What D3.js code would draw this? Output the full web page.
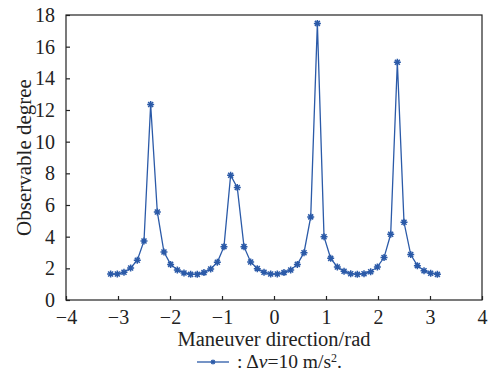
<!DOCTYPE html>
<html>
<head>
<meta charset="utf-8">
<script src="https://cdn.jsdelivr.net/npm/d3@7"></script>
<style>
  body { margin: 0; background: #fff; }
  svg text { font-family: "Liberation Serif", "DejaVu Serif", serif; fill: #222; }
</style>
</head>
<body>
<div id="chart"></div>
<script>
// Maneuver direction (rad), 50 samples from -pi to pi
var directions = [-3.142, -3.013, -2.885, -2.757, -2.629, -2.500, -2.372, -2.244, -2.116, -1.988,
                  -1.859, -1.731, -1.603, -1.475, -1.347, -1.218, -1.090, -0.962, -0.834, -0.706,
                  -0.577, -0.449, -0.321, -0.192, -0.064, 0.064, 0.192, 0.321, 0.449, 0.577,
                  0.706, 0.834, 0.962, 1.090, 1.218, 1.347, 1.475, 1.603, 1.731, 1.859,
                  1.988, 2.116, 2.244, 2.372, 2.500, 2.629, 2.757, 2.885, 3.013, 3.142];

// Observable degree for dv = 10 m/s^2
var degree = [1.64, 1.64, 1.75, 2.02, 2.51, 3.73, 12.35, 5.56, 3.03, 2.25,
              1.90, 1.71, 1.62, 1.62, 1.73, 1.96, 2.38, 3.37, 7.88, 7.10,
              3.37, 2.40, 1.98, 1.75, 1.64, 1.64, 1.73, 1.90, 2.25, 2.99,
              5.25, 17.47, 4.00, 2.63, 2.09, 1.81, 1.66, 1.62, 1.66, 1.79,
              2.09, 2.68, 4.15, 15.02, 4.91, 2.87, 2.17, 1.85, 1.69, 1.62];

var xTicks = [-4, -3, -2, -1, 0, 1, 2, 3, 4];
var yTicks = [0, 2, 4, 6, 8, 10, 12, 14, 16, 18];

var W = 490, H = 381;
var margin = { left: 66, right: 8, top: 15, bottom: 81 };
var w = W - margin.left - margin.right;
var h = H - margin.top - margin.bottom;
var blue = "#2b5aa8";
var serif = "'Liberation Serif', 'DejaVu Serif', serif";

var svg = d3.select("#chart").append("svg")
    .attr("width", W).attr("height", H);

var g = svg.append("g")
    .attr("transform", "translate(" + margin.left + "," + margin.top + ")");

var xScale = d3.scaleLinear().domain([-4, 4]).range([0, w]);
var yScale = d3.scaleLinear().domain([0, 18]).range([h, 0]);

// frame
g.append("rect")
    .attr("width", w).attr("height", h)
    .attr("fill", "none").attr("stroke", "#222").attr("stroke-width", 1.2);

// axes, ticks pointing inward
var xAxis = g.append("g")
    .attr("transform", "translate(0," + h + ")")
    .call(d3.axisBottom(xScale).tickValues(xTicks).tickSizeInner(-4).tickSizeOuter(0).tickPadding(10)
        .tickFormat(function(d) { return d < 0 ? "\u2212" + Math.abs(d) : d; }));

var yAxis = g.append("g")
    .call(d3.axisLeft(yScale).tickValues(yTicks).tickSizeInner(-4).tickSizeOuter(0).tickPadding(11));

[xAxis, yAxis].forEach(function(a) {
  a.attr("font-family", serif);
  a.select(".domain").remove();
  a.selectAll(".tick line").attr("stroke", "#222").attr("stroke-width", 1.2);
  a.selectAll(".tick text").style("font-size", "20px").attr("fill", "#222");
});

// line
var line = d3.line()
    .x(function(d, i) { return xScale(directions[i]); })
    .y(function(d) { return yScale(d); });

g.append("path")
    .datum(degree)
    .attr("d", line)
    .attr("fill", "none")
    .attr("stroke", blue)
    .attr("stroke-width", 1.3);

// asterisk markers
var star = "M-3.5,0L3.5,0M0,-3.5L0,3.5M-2.5,-2.5L2.5,2.5M-2.5,2.5L2.5,-2.5";
g.selectAll(".mk")
    .data(degree)
    .enter().append("path")
    .attr("class", "mk")
    .attr("transform", function(d, i) { return "translate(" + xScale(directions[i]) + "," + yScale(d) + ")"; })
    .attr("d", star)
    .attr("fill", "none")
    .attr("stroke", blue)
    .attr("stroke-width", 1.5);

// axis labels
svg.append("text")
    .attr("x", margin.left + w / 2).attr("y", 346)
    .attr("text-anchor", "middle")
    .style("font-size", "20.5px")
    .text("Maneuver direction/rad");

svg.append("text")
    .attr("transform", "translate(31," + (margin.top + h / 2) + ") rotate(-90)")
    .attr("text-anchor", "middle")
    .style("font-size", "21px")
    .text("Observable degree");

// legend
var lg = svg.append("g").attr("transform", "translate(197,362)");
lg.append("line").attr("x1", 0).attr("x2", 32).attr("y1", 0).attr("y2", 0)
    .attr("stroke", blue).attr("stroke-width", 1.3);
lg.append("path").attr("d", star).attr("transform", "translate(16,0) scale(0.7)")
    .attr("stroke", blue).attr("stroke-width", 1.6).attr("fill", "none");
var lt = lg.append("text").attr("x", 40).attr("y", 6)
    .style("font-size", "19.5px");
lt.append("tspan").text(": \u0394");
lt.append("tspan").style("font-style", "italic").text("v");
lt.append("tspan").text("=10 m/s");
lt.append("tspan").attr("dy", -6).style("font-size", "12px").text("2");
lt.append("tspan").attr("dy", 6).text(".");
</script>
</body>
</html>
